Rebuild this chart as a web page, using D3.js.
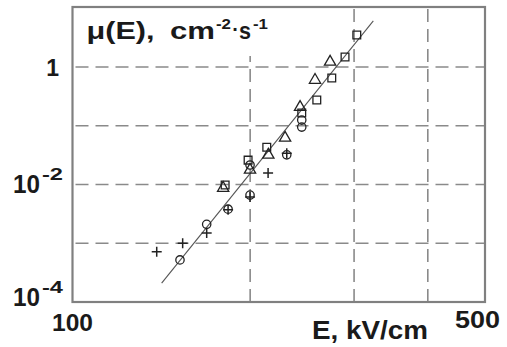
<!DOCTYPE html>
<html>
<head>
<meta charset="utf-8">
<script src="https://cdn.jsdelivr.net/npm/d3@7"></script>
<style>
  body { margin: 0; background: #fff; }
  text { font-family: "Liberation Sans", Arial, sans-serif; font-weight: bold; fill: #1a1a1a; }
</style>
</head>
<body>
<div id="chart"></div>
<script>
// data: E in kV/cm, mu in cm^-2 s^-1
const plusE   = [138.9, 153.7, 168.8, 183.5, 199.9, 214.5, 230.7]
const plusMu  = [7.2e-4, 1.0e-3, 1.5e-3, 3.7e-3, 6.1e-3, 0.0157, 0.034]

const circE   = [152.1, 168.8, 183.5, 199.9, 199.9, 230.7, 244.6, 244.6]
const circMu  = [5.2e-4, 2.1e-3, 3.8e-3, 6.6e-3, 0.0215, 0.032, 0.095, 0.125]

const sqE     = [181.4, 198.4, 213.4, 244.6, 259.4, 275.0, 289.6, 303.2]
const sqMu    = [9.8e-3, 0.026, 0.043, 0.165, 0.274, 0.65, 1.48, 3.5]

const triE    = [180.0, 199.9, 214.7, 229.2, 243.0, 257.6, 273.2]
const triMu   = [8.7e-3, 0.0177, 0.032, 0.062, 0.208, 0.60, 1.22]

// fitted line end points
const fitE    = [141.6, 323.4]
const fitMu   = [2.1e-4, 6.1]

const xGrid   = [200, 300, 400]
const yGrid   = [1e-3, 1e-2, 1e-1, 1]
const xLabels = [100, 500]
const yLabels = [{ v: 1e-2, sup: "-2" }, { v: 1e-4, sup: "-4" }]

const width = 507, height = 347
const margin = ({ top: 7, right: 22, bottom: 45, left: 72.5 })

const svg = d3.select("#chart").append("svg")
    .attr("width", width)
    .attr("height", height)

const x = d3.scaleLog()
    .domain([100, 500])
    .range([margin.left, width - margin.right])
const y = d3.scaleLog()
    .domain([1e-4, 10.5])
    .range([height - margin.bottom, margin.top])

// dashed grid
svg.append("g")
    .selectAll("line")
    .data(xGrid)
    .enter().append("line")
    .attr("x1", d => x(d)).attr("x2", d => x(d))
    .attr("y1", y.range()[0]).attr("y2", y.range()[1])
    .attr("stroke", "#8a8a8a")
    .attr("stroke-width", 1.6)
    .attr("stroke-dasharray", "13,7")
svg.append("g")
    .selectAll("line")
    .data(yGrid)
    .enter().append("line")
    .attr("x1", x.range()[0]).attr("x2", x.range()[1])
    .attr("y1", d => y(d)).attr("y2", d => y(d))
    .attr("stroke", "#8a8a8a")
    .attr("stroke-width", 1.6)
    .attr("stroke-dasharray", "13,7")
    .attr("stroke-dashoffset", -3)

// white box behind the title
svg.append("rect")
    .attr("x", x.range()[0] + 1)
    .attr("y", y.range()[1] + 1)
    .attr("width", 200)
    .attr("height", 48)
    .attr("fill", "#fff")

// frame
svg.append("rect")
    .attr("x", x.range()[0])
    .attr("y", y.range()[1])
    .attr("width", x.range()[1] - x.range()[0])
    .attr("height", y.range()[0] - y.range()[1])
    .attr("fill", "none")
    .attr("stroke", "#808080")
    .attr("stroke-width", 2.2)

// fit line
svg.append("line")
    .attr("x1", x(fitE[0])).attr("y1", y(fitMu[0]))
    .attr("x2", x(fitE[1])).attr("y2", y(fitMu[1]))
    .attr("stroke", "#555")
    .attr("stroke-width", 1.1)

const pts = (es, mus) => es.map((e, i) => [e, mus[i]])
const sym = (type, size) => d3.symbol().type(type).size(size)

const drawMarks = (data, shape, size) => {
    svg.append("g")
        .selectAll("path")
        .data(data)
        .enter().append("path")
        .attr("transform", d => `translate(${x(d[0])},${y(d[1])})`)
        .attr("d", sym(shape, size))
        .attr("fill", "none")
        .attr("stroke", "#222")
        .attr("stroke-width", 1.3)
}

drawMarks(pts(circE, circMu), d3.symbolCircle, 55)
drawMarks(pts(sqE, sqMu), d3.symbolSquare, 60)
drawMarks(pts(triE, triMu), d3.symbolTriangle, 55)
// plus signs
svg.append("g")
    .selectAll("path")
    .data(pts(plusE, plusMu))
    .enter().append("path")
    .attr("transform", d => `translate(${x(d[0])},${y(d[1])})`)
    .attr("d", "M-5,0H5M0,-5V5")
    .attr("stroke", "#222")
    .attr("stroke-width", 1.5)

// y labels
svg.append("text")
    .attr("x", 59)
    .attr("y", y(1) + 9)
    .attr("text-anchor", "end")
    .style("font-size", "23px")
    .text("1")
const yl = svg.append("g")
    .selectAll("g")
    .data(yLabels)
    .enter().append("g")
    .attr("transform", d => `translate(0,${y(d.v) + (d.v === 1e-4 ? 4 : 9)})`)
yl.append("text")
    .attr("x", 13)
    .attr("textLength", 27)
    .attr("lengthAdjust", "spacingAndGlyphs")
    .style("font-size", "25px")
    .text("10")
yl.append("text")
    .attr("x", 42)
    .attr("y", -13)
    .attr("textLength", 21)
    .attr("lengthAdjust", "spacingAndGlyphs")
    .style("font-size", "16px")
    .text(d => d.sup)

// x labels
svg.append("g")
    .selectAll("text")
    .data(xLabels)
    .enter().append("text")
    .attr("x", d => d === 500 ? 455 : 52)
    .attr("y", d => d === 500 ? 328 : 331)
    .attr("textLength", d => d === 500 ? 45 : 41)
    .attr("lengthAdjust", "spacingAndGlyphs")
    .style("font-size", "23px")
    .text(d => d)

svg.append("text")
    .attr("x", 312)
    .attr("y", 338.5)
    .attr("textLength", 116)
    .attr("lengthAdjust", "spacingAndGlyphs")
    .style("font-size", "25px")
    .text("E, kV/cm")

// title inside plot
const title = svg.append("g")
const titleBits = [
    { t: "\u03bc(E),", x: 86.5, w: 68, y: 38.5, fs: 23 },
    { t: "cm", x: 170, w: 45, y: 38.5, fs: 23 },
    { t: "-2", x: 216, w: 15, y: 29, fs: 15 },
    { t: "s", x: 239, w: 12, y: 38.5, fs: 23 },
    { t: "-1", x: 253, w: 15, y: 29, fs: 15 }
]
title.selectAll("text")
    .data(titleBits)
    .enter().append("text")
    .attr("x", d => d.x)
    .attr("y", d => d.y)
    .attr("textLength", d => d.w)
    .attr("lengthAdjust", "spacingAndGlyphs")
    .style("font-size", d => d.fs + "px")
    .text(d => d.t)
// middle dot between cm-2 and s
title.append("text")
    .attr("x", 235.5)
    .attr("y", 36)
    .attr("text-anchor", "middle")
    .style("font-size", "20px")
    .text("\u00b7")
</script>
</body>
</html>
